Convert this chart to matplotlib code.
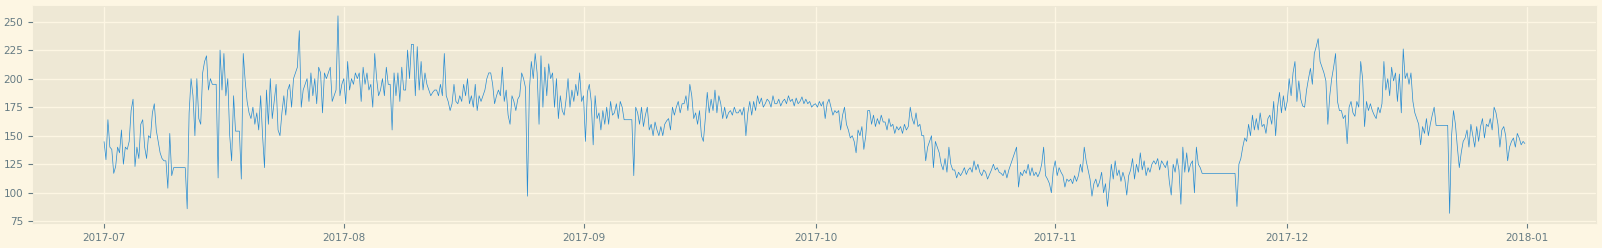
import matplotlib

matplotlib.use("Agg")
import matplotlib.pyplot as plt
import pandas as pd

# 6-hourly readings, one row per day (00h, 06h, 12h, 18h)
jul_vals = [
    145, 129, 164, 140,  138, 117, 123, 140,  135, 155, 125, 140,
    138, 145, 172, 182,  123, 140, 130, 160,  164, 140, 130, 150,
    148, 170, 178, 155,  145, 135, 130, 128,  128, 104, 152, 115,
    122, 122, 122, 122,  122, 122, 122, 86,   170, 200, 185, 150,
    200, 165, 160, 205,  215, 220, 190, 200,  195, 195, 195, 113,
    225, 190, 222, 185,  200, 150, 128, 185,  154, 154, 154, 112,
    222, 198, 180, 170,  165, 175, 160, 170,  155, 185, 150, 122,
    190, 160, 200, 165,  180, 195, 155, 150,  170, 185, 168, 190,
    195, 175, 200, 205,  210, 242, 175, 190,  195, 200, 180, 205,
    185, 200, 178, 210,  205, 170, 205, 200,  205, 210, 180, 185,
    190, 255, 185, 195,
]
aug_vals = [
    200, 178, 215, 190,  200, 195, 205, 200,  205, 180, 210, 195,
    205, 190, 195, 175,  222, 200, 185, 190,  200, 185, 210, 195,
    195, 155, 205, 185,  205, 180, 210, 190,  190, 225, 200, 230,
    230, 185, 228, 190,  215, 190, 205, 195,  190, 185, 188, 190,
    190, 185, 195, 185,  222, 185, 180, 172,  178, 195, 180, 178,
    185, 180, 195, 185,  200, 178, 185, 175,  195, 172, 185, 180,
    185, 190, 200, 205,  205, 195, 178, 185,  190, 185, 210, 180,
    190, 168, 160, 185,  180, 172, 182, 185,  205, 200, 192, 97,
    190, 215, 200, 222,  205, 160, 220, 175,  210, 185, 213, 200,
    205, 175, 200, 165,  185, 172, 168, 182,  200, 175, 190, 180,
    195, 185, 205, 180,
]
sep_vals = [
    185, 145, 188, 195,  180, 142, 185, 165,  170, 155, 172, 160,
    175, 160, 180, 168,  170, 178, 165, 180,  175, 164, 164, 164,
    164, 164, 115, 175,  170, 160, 175, 158,  168, 175, 155, 160,
    150, 162, 155, 150,  158, 150, 160, 163,  165, 155, 175, 168,
    175, 180, 170, 178,  178, 185, 172, 195,  185, 165, 170, 160,
    172, 150, 145, 165,  188, 170, 182, 172,  190, 170, 185, 178,
    165, 175, 165, 170,  172, 168, 175, 170,  170, 173, 168, 175,
    150, 170, 180, 168,  180, 172, 185, 178,  183, 175, 178, 182,
    180, 175, 185, 178,  178, 182, 176, 180,  182, 178, 185, 180,
    182, 176, 183, 178,  180, 184, 178, 182,  178, 180, 175, 177,
]
oct_vals = [
    178, 175, 180, 176,  180, 165, 178, 182,  175, 168, 172, 170,
    172, 155, 168, 175,  160, 155, 148, 150,  145, 135, 155, 150,
    158, 138, 150, 172,  172, 160, 168, 158,  165, 160, 168, 162,
    162, 155, 165, 158,  160, 152, 158, 155,  158, 152, 160, 155,
    158, 175, 165, 160,  170, 158, 160, 150,  150, 128, 140, 145,
    150, 122, 145, 140,  135, 125, 120, 130,  118, 140, 125, 120,
    120, 113, 118, 115,  118, 122, 116, 120,  122, 118, 128, 120,
    125, 118, 115, 120,  118, 112, 116, 120,  125, 120, 122, 118,
    117, 115, 120, 113,  120, 125, 130, 135,  140, 105, 118, 115,
    120, 117, 125, 115,  122, 115, 118, 114,  118, 125, 140, 115,
    112, 108, 100, 120,
]
nov_vals = [
    128, 115, 122, 118,  115, 105, 112, 110,  112, 108, 115, 110,
    115, 125, 118, 140,  128, 120, 112, 97,   108, 112, 105, 110,
    118, 100, 108, 88,   105, 125, 112, 128,  115, 120, 110, 118,
    112, 98, 115, 120,   130, 112, 125, 118,  135, 120, 128, 115,
    122, 118, 125, 128,  125, 130, 120, 128,  125, 122, 128, 110,
    98, 125, 118, 130,   120, 90, 140, 118,   135, 118, 125, 128,
    100, 140, 125, 122,  117, 117, 117, 117,  117, 117, 117, 117,
    117, 117, 117, 117,  117, 117, 117, 117,  117, 117, 88, 125,
    130, 140, 148, 145,  160, 150, 168, 155,  165, 155, 170, 158,
    160, 152, 165, 168,  160, 180, 150, 175,  188, 170, 185, 172,
]
dec_vals = [
    180, 200, 185, 205,  215, 180, 198, 182,  176, 175, 190, 200,
    209, 195, 222, 228,  235, 215, 210, 205,  198, 160, 185, 200,
    210, 222, 180, 172,  172, 165, 168, 143,  175, 180, 170, 167,
    180, 175, 215, 200,  158, 180, 172, 178,  172, 168, 165, 175,
    170, 178, 215, 190,  200, 185, 210, 198,  205, 180, 204, 170,
    226, 200, 205, 195,  205, 180, 170, 165,  160, 142, 158, 152,
    165, 150, 160, 168,  175, 159, 159, 159,  159, 159, 159, 159,
    82, 150, 172, 160,   140, 122, 135, 145,  148, 155, 140, 160,
    150, 140, 158, 145,  158, 165, 148, 160,  158, 165, 155, 175,
    170, 160, 140, 155,  158, 150, 128, 140,  145, 148, 140, 152,
    148, 142, 145, 143,
]

values = jul_vals + aug_vals + sep_vals + oct_vals + nov_vals + dec_vals
times = pd.date_range("2017-07-01", periods=len(values), freq="6h")

plt.style.use("Solarize_Light2")
fig = plt.figure(figsize=(16.02, 2.48), dpi=100)
ax = fig.add_axes([0.0206, 0.1, 0.9757, 0.876])
ax.plot(times, values, lw=0.5)
ax.tick_params(labelsize=7.5)
fig.savefig("out.png")
